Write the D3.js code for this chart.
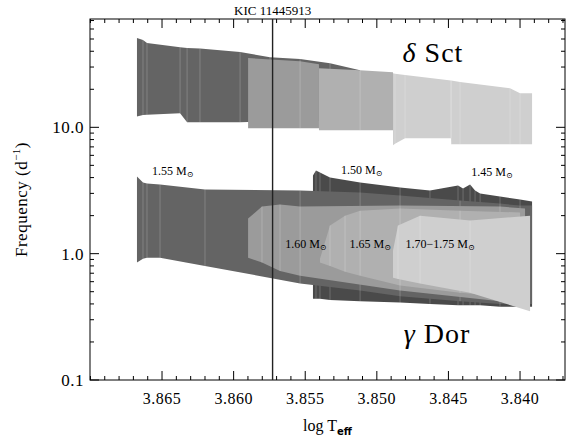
<!DOCTYPE html>
<html><head><meta charset="utf-8">
<script src="https://cdn.jsdelivr.net/npm/d3@7"></script>
<style>body{margin:0;background:#fff}text{font-family:"Liberation Serif","DejaVu Serif",serif}</style>
</head><body><svg id="c" width="577" height="441"></svg>
<script>
// instability strip regions: log Teff, upper and lower frequency (d^-1)
const dsct155T = [3.86675,3.86633,3.86605,3.86374,3.86325,3.86235,3.85955,3.85746,3.85536,3.85327,3.85117]
const dsct155Hi = [50.9,49.0,46.4,43.0,42.4,42.0,39.4,35.9,34.7,32.2,28.3]
const dsct155Lo = [12.2,12.5,12.6,12.9,10.96,10.96,10.96,11.2,11.2,11.2,11.2]
const dsct160T = [3.85899,3.85536,3.85404]
const dsct160Hi = [35.3,33.4,31.6]
const dsct160Lo = [9.82,9.82,9.82]
const dsct165T = [3.85404,3.85117,3.84887]
const dsct165Hi = [29.4,28.3,27.3]
const dsct165Lo = [9.47,9.47,9.47]
const dsct170T = [3.84887,3.84873,3.84803,3.84482,3.84481,3.84419,3.84070,3.84000,3.83916]
const dsct170Hi = [26.8,26.6,26.0,23.5,23.5,22.8,20.4,18.6,18.6]
const dsct170Lo = [7.20,7.4,8.18,8.18,7.33,7.33,7.33,7.33,7.33]

const gdor150T = [3.85446,3.85425,3.85397,3.85327,3.85117,3.84838,3.84629,3.84433,3.84398,3.84349,3.84314,3.84279,3.84140,3.84000,3.83916]
const gdor150Hi = [4.16,4.56,4.39,4.01,3.66,3.34,3.16,3.46,3.28,3.53,3.16,2.99,2.83,2.68,2.59]
const gdor150Lo = [0.44,0.44,0.44,0.43,0.42,0.41,0.40,0.39,0.39,0.39,0.39,0.39,0.38,0.38,0.38]
const gdor155T = [3.86675,3.86633,3.86605,3.86514,3.86200,3.85536,3.85117,3.84838,3.84419,3.84140,3.84000,3.83916]
const gdor155Hi = [4.08,3.66,3.59,3.53,3.22,3.16,3.05,2.89,2.63,2.49,2.40,2.40]
const gdor155Lo = [0.85,0.91,0.93,0.93,0.80,0.58,0.51,0.46,0.42,0.40,0.40,0.40]
const gdor160T = [3.85899,3.85802,3.85676,3.85536,3.84838,3.84140,3.83965]
const gdor160Hi = [1.90,2.36,2.45,2.36,2.40,2.36,2.28]
const gdor160Lo = [0.93,0.85,0.73,0.67,0.51,0.42,0.42]
const gdor165T = [3.85397,3.85327,3.85222,3.85117,3.84838,3.84419,3.84000]
const gdor165Hi = [0.91,1.67,2.00,2.19,2.28,2.19,2.12]
const gdor165Lo = [0.85,0.80,0.72,0.67,0.56,0.49,0.45]
const gdor170T = [3.84887,3.84852,3.84698,3.84349,3.83930]
const gdor170Hi = [1.06,1.67,2.00,1.83,2.00]
const gdor170Lo = [0.645,0.63,0.58,0.49,0.35]

const starTeff = 3.85728
const starName = 'KIC 11445913'
const xTicks = [3.865,3.860,3.855,3.850,3.845,3.840]
const yTicks = [0.1,1.0,10.0]
const massLabels = [
  {t:'1.55', T:3.8657, f:4.2}, {t:'1.50', T:3.8525, f:4.3}, {t:'1.45', T:3.8434, f:4.15},
  {t:'1.60', T:3.8564, f:1.1}, {t:'1.65', T:3.8519, f:1.1}, {t:'1.70\u22121.75', T:3.8480, f:1.1}
]

const svg = d3.select('#c')
const m = {l:90, r:12, t:19, b:61}
const W = 577, H = 441
const x = d3.scaleLinear().domain([3.87003, 3.83686]).range([m.l, W - m.r])
const y = d3.scaleLog().domain([0.1, 72]).range([H - m.b, m.t])

const regions = [
  [dsct155T,dsct155Hi,dsct155Lo,'#646464'],
  [dsct160T,dsct160Hi,dsct160Lo,'#9b9b9b'],
  [dsct165T,dsct165Hi,dsct165Lo,'#b0b0b0'],
  [dsct170T,dsct170Hi,dsct170Lo,'#cfcfcf'],
  [gdor150T,gdor150Hi,gdor150Lo,'#4a4a4a'],
  [gdor155T,gdor155Hi,gdor155Lo,'#646464'],
  [gdor160T,gdor160Hi,gdor160Lo,'#9b9b9b'],
  [gdor165T,gdor165Hi,gdor165Lo,'#b0b0b0'],
  [gdor170T,gdor170Hi,gdor170Lo,'#cfcfcf']
]
const area = d3.area().x(d => x(d[0])).y0(d => y(d[2])).y1(d => y(d[1]))
regions.forEach(([T, hi, lo, col]) => {
  const pts = T.map((t, i) => [t, hi[i], lo[i]])
  svg.append('path').attr('d', area(pts)).attr('fill', col)
  // model tracks seen as faint vertical lines
  svg.append('g').selectAll('line').data(pts.slice(1, -1)).join('line')
    .attr('x1', d => x(d[0])).attr('x2', d => x(d[0]))
    .attr('y1', d => y(d[1])).attr('y2', d => y(d[2]))
    .attr('stroke', '#fff').attr('stroke-opacity', 0.25).attr('stroke-width', 0.8)
})

// frame
svg.append('rect').attr('x', m.l).attr('y', m.t).attr('width', W - m.l - m.r).attr('height', H - m.t - m.b)
  .attr('fill', 'none').attr('stroke', '#000').attr('stroke-width', 1)

const minorX = d3.range(3.837, 3.8701, 0.001)
const g = svg.append('g').attr('stroke', '#000').attr('stroke-width', 1)
minorX.forEach(v => {
  const major = xTicks.some(t => Math.abs(t - v) < 1e-6)
  const len = major ? 9 : 4
  g.append('line').attr('x1', x(v)).attr('x2', x(v)).attr('y1', H - m.b).attr('y2', H - m.b - len)
  g.append('line').attr('x1', x(v)).attr('x2', x(v)).attr('y1', m.t).attr('y2', m.t + len)
})
const minorY = []
;[0.1, 1, 10].forEach(dec => d3.range(1, 10).forEach(k => { if (dec * k <= 72) minorY.push(dec * k) }))
minorY.forEach(v => {
  const major = yTicks.some(t => Math.abs(t - v) < 1e-6)
  const len = major ? 9 : 4
  g.append('line').attr('y1', y(v)).attr('y2', y(v)).attr('x1', m.l).attr('x2', m.l + len)
  g.append('line').attr('y1', y(v)).attr('y2', y(v)).attr('x1', W - m.r).attr('x2', W - m.r - len)
})

svg.append('g').selectAll('text').data(xTicks).join('text')
  .attr('x', d => x(d)).attr('y', H - m.b + 24).attr('text-anchor', 'middle')
  .attr('font-size', 16).attr('letter-spacing', 0.5).text(d => d.toFixed(3))
svg.append('g').selectAll('text').data(yTicks).join('text')
  .attr('x', m.l - 6).attr('y', d => y(d) + 6).attr('text-anchor', 'end')
  .attr('font-size', 17).attr('letter-spacing', 0.5).text(d => d.toFixed(1))

const xl = svg.append('text').attr('x', (m.l + W - m.r) / 2).attr('y', H - 10).attr('text-anchor', 'middle').attr('font-size', 16)
xl.append('tspan').text('log  T')
xl.append('tspan').attr('font-size', 10).attr('dy', 4).attr('font-weight', 'bold').attr('font-family', 'DejaVu Sans').text('eff')

const yl = svg.append('text').attr('transform', `translate(27,${(m.t + H - m.b) / 2}) rotate(-90)`)
  .attr('text-anchor', 'middle').attr('font-size', 17).attr('letter-spacing', 0.5)
yl.append('tspan').text('Frequency   (d')
yl.append('tspan').attr('font-size', 11).attr('dy', -7).text('\u22121')
yl.append('tspan').attr('dy', 7).text(')')

// star line
svg.append('line').attr('x1', x(starTeff)).attr('x2', x(starTeff)).attr('y1', m.t).attr('y2', H - m.b)
  .attr('stroke', '#222').attr('stroke-width', 1.4)
svg.append('text').attr('x', x(starTeff)).attr('y', 15).attr('text-anchor', 'middle').attr('font-size', 13).text(starName)

svg.append('text').attr('x', 433).attr('y', 62).attr('text-anchor', 'middle').attr('font-size', 28).attr('letter-spacing', 1)
  .html('<tspan font-style="italic">\u03b4</tspan> Sct')
svg.append('text').attr('x', 437).attr('y', 343).attr('text-anchor', 'middle').attr('font-size', 28).attr('letter-spacing', 1)
  .html('<tspan font-style="italic">\u03b3</tspan> Dor')

massLabels.forEach(d => {
  const t = svg.append('text').attr('x', x(d.T)).attr('y', y(d.f)).attr('font-size', 12)
  t.append('tspan').text(d.t + ' M')
  t.append('tspan').attr('font-size', 8).attr('dy', 2).text('\u2299')
})
</script></body></html>
